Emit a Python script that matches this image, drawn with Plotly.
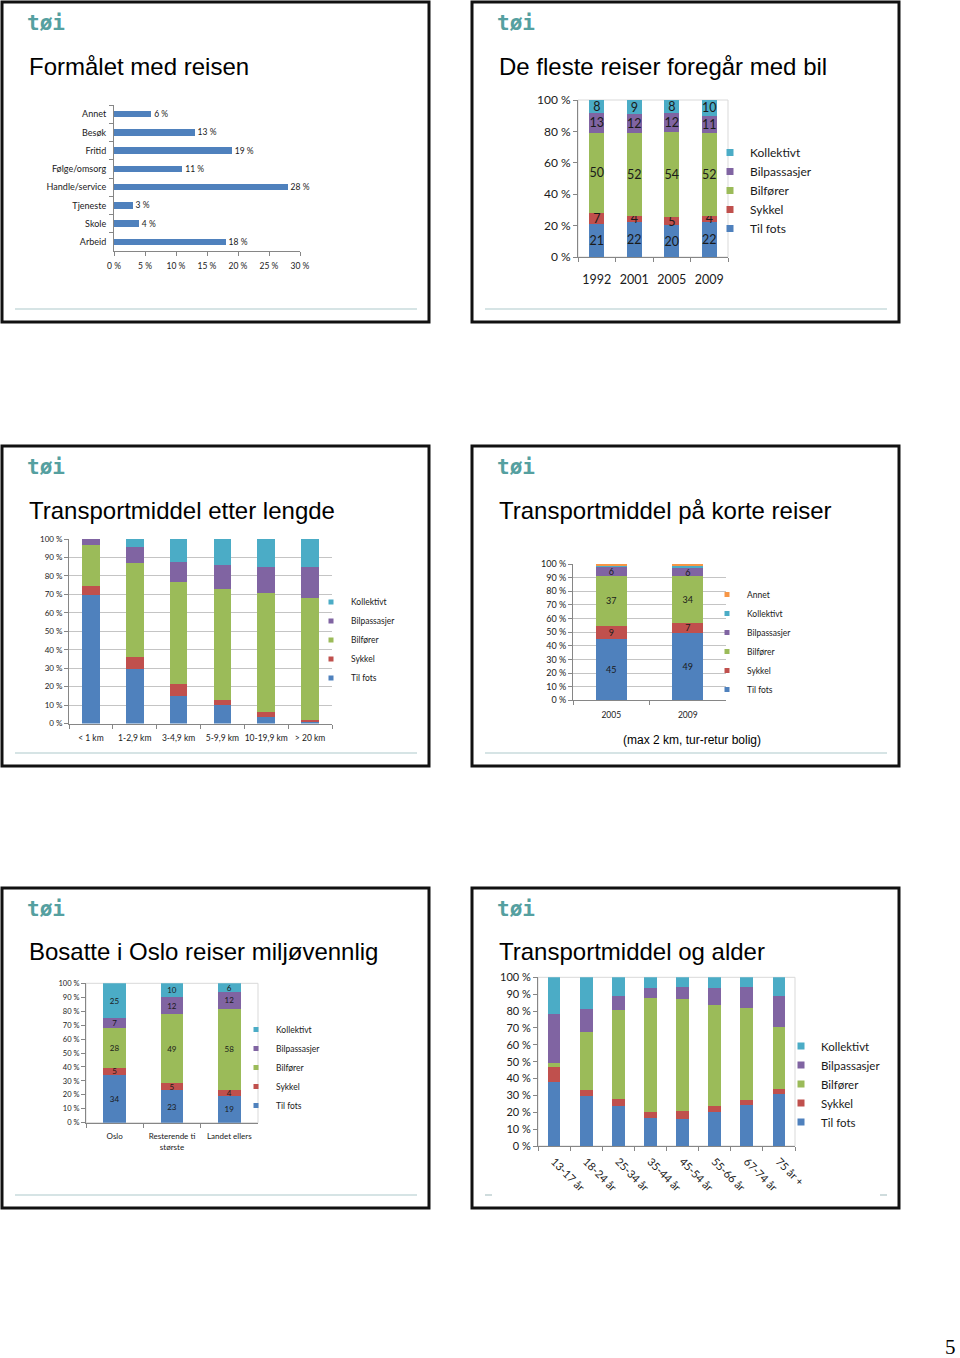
import plotly.graph_objects as go

W, H = 960, 1358

SERIES = ['Til fots', 'Sykkel', 'Bilfører', 'Bilpassasjer', 'Kollektivt', 'Annet']
COLORS = ['#4f81bd', '#c0504d', '#9bbb59', '#8064a2', '#4bacc6', '#f79646']

# ---------------- data ----------------
# Slide 1: Formålet med reisen
purpose_categories = ['Annet', 'Besøk', 'Fritid', 'Følge/omsorg', 'Handle/service', 'Tjeneste', 'Skole', 'Arbeid']
purpose_values = [6, 13, 19, 11, 28, 3, 4, 18]
purpose_ticks = [0, 5, 10, 15, 20, 25, 30]

# Slide 2: De fleste reiser foregår med bil
year_categories = ['1992', '2001', '2005', '2009']
year_til_fots = [21, 22, 20, 22]
year_sykkel = [7, 4, 5, 4]
year_bilforer = [50, 52, 54, 52]
year_bilpassasjer = [13, 12, 12, 11]
year_kollektivt = [8, 9, 8, 10]

# Slide 3: Transportmiddel etter lengde
length_categories = ['< 1 km', '1-2,9 km', '3-4,9 km', '5-9,9 km', '10-19,9 km', '> 20 km']
length_til_fots = [69.5, 29.3, 15.0, 10.1, 3.6, 1.1]
length_sykkel = [5.0, 6.9, 6.2, 2.9, 2.4, 0.9]
length_bilforer = [22.5, 50.6, 55.7, 59.7, 64.5, 65.8]
length_bilpassasjer = [3.0, 9.0, 10.8, 13.2, 14.1, 17.2]
length_kollektivt = [0.0, 4.2, 12.3, 14.1, 15.4, 15.0]

# Slide 4: Transportmiddel på korte reiser
short_categories = ['2005', '2009']
short_til_fots = [45, 49]
short_sykkel = [9, 7]
short_bilforer = [37, 34]
short_bilpassasjer = [6, 6]
short_kollektivt = [1.5, 1.8]
short_annet = [1.0, 1.0]

# Slide 5: Bosatte i Oslo reiser miljøvennlig
region_categories = ['Oslo', 'Resterende ti<br>største', 'Landet ellers']
region_til_fots = [34, 23, 19]
region_sykkel = [5, 5, 4]
region_bilforer = [28, 49, 58]
region_bilpassasjer = [7, 12, 12]
region_kollektivt = [25, 10, 6]

# Slide 6: Transportmiddel og alder
age_categories = ['13-17 år', '18-24 år', '25-34 år', '35-44 år', '45-54 år', '55-66 år', '67-74 år', '75 år +']
age_til_fots = [37.7, 29.8, 23.9, 16.6, 16.2, 20.4, 24.3, 30.6]
age_sykkel = [9.3, 3.4, 3.8, 3.8, 4.6, 3.5, 3.0, 3.0]
age_bilforer = [2.4, 34.2, 52.9, 67.1, 66.6, 59.7, 54.7, 37.2]
age_bilpassasjer = [28.9, 13.8, 8.3, 6.2, 6.9, 10.3, 12.3, 18.1]
age_kollektivt = [21.7, 18.8, 11.1, 6.3, 5.7, 6.1, 5.7, 11.1]

# ---------------- helpers ----------------
def fx(p):
    return p / W

def fy(p):
    return 1 - p / H

def dom_x(a, b):
    return [fx(a), fx(b)]

def dom_y(top, bottom):
    return [fy(bottom), fy(top)]

FONT = 'Lato'
TXT = '#1a1a1a'
AXC = '#868686'

fig = go.Figure()


def ax_names(idx):
    return ('x', 'y') if idx == 1 else ('x%d' % idx, 'y%d' % idx)


def pct_labels(vals):
    return ['%d %%' % v for v in vals]


def add_stacked(idx, categories, series, labelled, textsize, marker_size):
    xa, ya = ax_names(idx)
    names = [n for n, _ in series]
    values = [v for _, v in series]
    totals = [sum(col) for col in zip(*values)]
    for name, vals in series:
        color = COLORS[SERIES.index(name)]
        pct = [v / t * 100 for v, t in zip(vals, totals)]
        show_text = name in labelled
        fig.add_trace(go.Bar(
            x=categories, y=pct, width=0.4,
            marker=dict(color=color, line=dict(width=0)),
            text=[('%g' % v) for v in vals] if show_text else None,
            textposition='inside', insidetextanchor='middle', textangle=0,
            constraintext='none',
            textfont=dict(family=FONT, size=textsize, color=TXT),
            xaxis=xa, yaxis=ya, showlegend=False, hoverinfo='skip'))
    for name in names:
        color = COLORS[SERIES.index(name)]
        fig.add_trace(go.Scatter(
            x=[None], y=[None], mode='markers', name=name,
            marker=dict(symbol='square', size=marker_size, color=color),
            xaxis=xa, yaxis=ya, legend='legend%d' % idx, showlegend=True,
            hoverinfo='skip'))


def axis_pair(idx, xdom, ydom, xfont, yfont, ytickvals, grid=False, **xextra):
    xa = 'xaxis%d' % idx
    ya = 'yaxis%d' % idx
    xn, yn = ax_names(idx)
    xd = dict(domain=xdom, anchor=yn, showline=True, linecolor=AXC, ticks='outside',
              tickson='boundaries', ticklen=4, tickcolor=AXC, showgrid=False, zeroline=False,
              tickangle=0, automargin=False,
              tickfont=dict(family=FONT, size=xfont, color=TXT), fixedrange=True)
    xd.update(xextra)
    yd = dict(domain=ydom, anchor=xn, range=[0, 100], tickmode='array', tickvals=ytickvals,
              ticktext=pct_labels(ytickvals),
              showline=True, linecolor=AXC, ticks='outside', ticklen=4, tickcolor=AXC,
              showgrid=grid, gridcolor='#c4c4c4', zeroline=False, automargin=False,
              tickfont=dict(family=FONT, size=yfont, color=TXT), fixedrange=True)
    return {xa: xd, ya: yd}


layout_axes = {}

# ---- chart 1: horizontal bars ----
fig.add_trace(go.Bar(
    x=purpose_values, y=purpose_categories, orientation='h', width=0.35,
    marker=dict(color=COLORS[0], line=dict(width=0)),
    text=pct_labels(purpose_values), textposition='outside', cliponaxis=False,
    constraintext='none',
    textfont=dict(family=FONT, size=8.5, color=TXT), showlegend=False, hoverinfo='skip'))
layout_axes['xaxis'] = dict(domain=dom_x(114, 300), anchor='y', range=[0, 30], tickmode='array',
                            tickvals=purpose_ticks, ticktext=pct_labels(purpose_ticks),
                            showline=True, linecolor=AXC, ticks='outside', ticklen=4,
                            tickcolor=AXC, showgrid=False, zeroline=False, automargin=False,
                            ticklabelstandoff=3,
                            tickfont=dict(family=FONT, size=8.5, color=TXT))
layout_axes['yaxis'] = dict(domain=dom_y(105, 251), anchor='x', autorange='reversed', type='category',
                            showline=True, linecolor=AXC, ticks='outside', tickson='boundaries', ticklen=4,
                            tickcolor=AXC, showgrid=False, automargin=False, ticklabelstandoff=5,
                            tickfont=dict(family=FONT, size=9, color=TXT))

# ---- chart 2 ----
add_stacked(2, year_categories,
            [('Til fots', year_til_fots), ('Sykkel', year_sykkel), ('Bilfører', year_bilforer),
             ('Bilpassasjer', year_bilpassasjer), ('Kollektivt', year_kollektivt)],
            ['Til fots', 'Sykkel', 'Bilfører', 'Bilpassasjer', 'Kollektivt'], 12.5, 7)
layout_axes.update(axis_pair(2, dom_x(578, 728), dom_y(100, 257), 12.5, 12, [0, 20, 40, 60, 80, 100],
                             ticklabelstandoff=11))

# ---- chart 3 ----
add_stacked(3, length_categories,
            [('Til fots', length_til_fots), ('Sykkel', length_sykkel), ('Bilfører', length_bilforer),
             ('Bilpassasjer', length_bilpassasjer), ('Kollektivt', length_kollektivt)],
            [], 8, 5)
layout_axes.update(axis_pair(3, dom_x(69, 332), dom_y(539, 723.5), 8.5, 8, list(range(0, 101, 10)),
                             grid=True, ticklabelstandoff=6))

# ---- chart 4 ----
add_stacked(4, short_categories,
            [('Til fots', short_til_fots), ('Sykkel', short_sykkel), ('Bilfører', short_bilforer),
             ('Bilpassasjer', short_bilpassasjer), ('Kollektivt', short_kollektivt), ('Annet', short_annet)],
            ['Til fots', 'Sykkel', 'Bilfører', 'Bilpassasjer'], 9, 5)
layout_axes.update(axis_pair(4, dom_x(573, 726), dom_y(564, 700.3), 8.5, 9, list(range(0, 101, 10)),
                             grid=True, ticklabelstandoff=6))

# ---- chart 5 ----
add_stacked(5, region_categories,
            [('Til fots', region_til_fots), ('Sykkel', region_sykkel), ('Bilfører', region_bilforer),
             ('Bilpassasjer', region_bilpassasjer), ('Kollektivt', region_kollektivt)],
            ['Til fots', 'Sykkel', 'Bilfører', 'Bilpassasjer', 'Kollektivt'], 8, 5)
layout_axes.update(axis_pair(5, dom_x(86, 258), dom_y(983.3, 1122.7), 8, 7.5, list(range(0, 101, 10)),
                             ticklabelstandoff=6))

# ---- chart 6 ----
add_stacked(6, age_categories,
            [('Til fots', age_til_fots), ('Sykkel', age_sykkel), ('Bilfører', age_bilforer),
             ('Bilpassasjer', age_bilpassasjer), ('Kollektivt', age_kollektivt)],
            [], 10, 7)
layout_axes.update(axis_pair(6, dom_x(538, 795), dom_y(977.3, 1146), 11, 11, list(range(0, 101, 10)),
                             tickangle=45, ticklabelstandoff=4))


def legend_at(text_x, center_y, size):
    return dict(x=fx(text_x - 40), y=fy(center_y), xanchor='left', yanchor='middle',
                traceorder='reversed', bgcolor='rgba(0,0,0,0)', borderwidth=0,
                font=dict(family=FONT, size=size, color=TXT), itemclick=False, itemdoubleclick=False)


# ---------------- slides: frames, logos, titles ----------------
slides = [  # (x0, y0, x1, y1)
    (2, 2, 429, 322), (472, 2, 899, 322),
    (2, 446, 429, 766), (472, 446, 899, 766),
    (2, 888, 429, 1208), (472, 888, 899, 1208),
]
titles = ['Formålet med reisen', 'De fleste reiser foregår med bil',
          'Transportmiddel etter lengde', 'Transportmiddel på korte reiser',
          'Bosatte i Oslo reiser miljøvennlig', 'Transportmiddel og alder']

shapes = []
annotations = []
for i, ((x0, y0, x1, y1), title) in enumerate(zip(slides, titles)):
    shapes.append(dict(type='rect', xref='paper', yref='paper', x0=fx(x0), x1=fx(x1), y0=fy(y1), y1=fy(y0),
                       line=dict(color='#111111', width=3), fillcolor='rgba(0,0,0,0)', layer='below'))
    line_y = y0 + 307
    if i < 5:
        shapes.append(dict(type='line', xref='paper', yref='paper', x0=fx(x0 + 13), x1=fx(x1 - 12),
                           y0=fy(line_y), y1=fy(line_y), line=dict(color='#c9dbdc', width=1.5), layer='below'))
    else:
        for a, b in ((x0 + 13, x0 + 20), (x1 - 19, x1 - 12)):
            shapes.append(dict(type='line', xref='paper', yref='paper', x0=fx(a), x1=fx(b),
                               y0=fy(line_y), y1=fy(line_y), line=dict(color='#9fb9bb', width=1), layer='below'))
    annotations.append(dict(text='<b>tøi</b>', x=fx(x0 + 23), y=fy(y0 + 21), xref='paper', yref='paper',
                            xanchor='left', yanchor='middle', showarrow=False,
                            font=dict(family='DejaVu Sans Mono', size=21, color='#55a0a0')))
    annotations.append(dict(text=title, x=fx(x0 + 25), y=fy(y0 + 64), xref='paper', yref='paper',
                            xanchor='left', yanchor='middle', showarrow=False,
                            font=dict(family='Liberation Sans', size=24, color='#000000')))

# light plot-area frames
for idx in (2, 5, 6):
    xn, yn = ax_names(idx)
    shapes.append(dict(type='rect', xref=xn + ' domain', yref=yn + ' domain', x0=0, x1=1, y0=0, y1=1,
                       line=dict(color='#d9d9d9', width=1), layer='below'))

annotations.append(dict(text='(max 2 km, tur-retur bolig)', x=fx(691.5), y=fy(740), xref='paper', yref='paper',
                        xanchor='center', yanchor='middle', showarrow=False,
                        font=dict(family='Liberation Sans', size=12, color='#000000')))
annotations.append(dict(text='5', x=fx(958), y=fy(1347), xref='paper', yref='paper',
                        xanchor='right', yanchor='middle', showarrow=False,
                        font=dict(family='Liberation Serif', size=21, color='#000000')))

fig.update_layout(
    width=W, height=H, margin=dict(l=0, r=0, t=0, b=0, pad=0, autoexpand=False), autosize=False,
    paper_bgcolor='white', plot_bgcolor='white', barmode='stack',
    showlegend=True,
    legend2=legend_at(750, 190.5, 12),
    legend3=legend_at(351, 640, 8.5),
    legend4=legend_at(747, 642, 8.5),
    legend5=legend_at(276, 1067.5, 8.5),
    legend6=legend_at(821, 1084, 11.5),
    shapes=shapes, annotations=annotations,
    **layout_axes,
)

# remove the browser's default page margin so the 960x1358 figure fills the window exactly
fig.write_html('out.html', config={'displayModeBar': False},
               post_script="document.body.style.margin='0';document.body.style.overflow='hidden';")
